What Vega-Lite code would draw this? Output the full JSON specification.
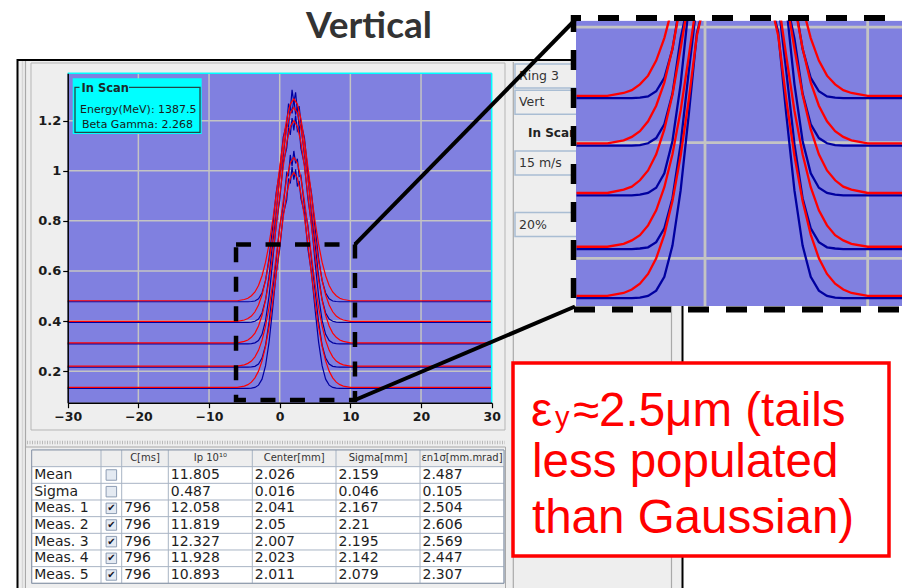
{
"$schema": "https://vega.github.io/schema/vega-lite/v6.json",
"width": 902, "height": 588, "padding": 0, "autosize": {"type": "none"},
"background": "#ffffff",
"config": {"view": {"stroke": null}, "text": {"font": "DejaVu Sans"}},
"data": {"values": [{"item": "shape"}]},
"datasets": {
"fit": [
{"x":-30,"m1":0.481,"m2":0.399,"m3":0.313,"m4":0.22,"m5":0.135},
{"x":-7.9,"m1":0.481,"m2":0.399,"m3":0.313,"m4":0.22,"m5":0.135},
{"x":-6,"m1":0.481,"m2":0.399,"m3":0.313,"m4":0.22,"m5":0.135},
{"x":-5,"m1":0.486,"m2":0.404,"m3":0.319,"m4":0.225,"m5":0.14},
{"x":-4.5,"m1":0.491,"m2":0.41,"m3":0.324,"m4":0.231,"m5":0.146},
{"x":-4,"m1":0.501,"m2":0.42,"m3":0.335,"m4":0.24,"m5":0.156},
{"x":-3.5,"m1":0.516,"m2":0.437,"m3":0.352,"m4":0.257,"m5":0.173},
{"x":-3,"m1":0.542,"m2":0.464,"m3":0.38,"m4":0.283,"m5":0.2},
{"x":-2.5,"m1":0.581,"m2":0.504,"m3":0.423,"m4":0.323,"m5":0.241},
{"x":-2,"m1":0.635,"m2":0.563,"m3":0.483,"m4":0.38,"m5":0.299},
{"x":-1.5,"m1":0.708,"m2":0.64,"m3":0.563,"m4":0.455,"m5":0.377},
{"x":-1,"m1":0.799,"m2":0.736,"m3":0.663,"m4":0.549,"m5":0.474},
{"x":-0.5,"m1":0.904,"m2":0.847,"m3":0.778,"m4":0.657,"m5":0.585},
{"x":0,"m1":1.014,"m2":0.964,"m3":0.9,"m4":0.771,"m5":0.703},
{"x":0.5,"m1":1.12,"m2":1.076,"m3":1.016,"m4":0.88,"m5":0.815},
{"x":1,"m1":1.208,"m2":1.169,"m3":1.113,"m4":0.971,"m5":0.909},
{"x":1.5,"m1":1.266,"m2":1.231,"m3":1.177,"m4":1.032,"m5":0.971},
{"x":2,"m1":1.287,"m2":1.253,"m3":1.2,"m4":1.053,"m5":0.993},
{"x":2.5,"m1":1.266,"m2":1.231,"m3":1.177,"m4":1.032,"m5":0.971},
{"x":3,"m1":1.208,"m2":1.169,"m3":1.113,"m4":0.971,"m5":0.909},
{"x":3.5,"m1":1.12,"m2":1.076,"m3":1.016,"m4":0.88,"m5":0.815},
{"x":4,"m1":1.014,"m2":0.964,"m3":0.9,"m4":0.771,"m5":0.703},
{"x":4.5,"m1":0.904,"m2":0.847,"m3":0.778,"m4":0.657,"m5":0.585},
{"x":5,"m1":0.799,"m2":0.736,"m3":0.663,"m4":0.549,"m5":0.474},
{"x":5.5,"m1":0.708,"m2":0.64,"m3":0.563,"m4":0.455,"m5":0.377},
{"x":6,"m1":0.635,"m2":0.563,"m3":0.483,"m4":0.38,"m5":0.299},
{"x":6.5,"m1":0.581,"m2":0.504,"m3":0.423,"m4":0.323,"m5":0.241},
{"x":7,"m1":0.542,"m2":0.464,"m3":0.38,"m4":0.283,"m5":0.2},
{"x":7.5,"m1":0.516,"m2":0.437,"m3":0.352,"m4":0.257,"m5":0.173},
{"x":8,"m1":0.501,"m2":0.42,"m3":0.335,"m4":0.24,"m5":0.156},
{"x":8.5,"m1":0.491,"m2":0.41,"m3":0.324,"m4":0.231,"m5":0.146},
{"x":9,"m1":0.486,"m2":0.404,"m3":0.319,"m4":0.225,"m5":0.14},
{"x":10,"m1":0.481,"m2":0.399,"m3":0.313,"m4":0.22,"m5":0.135},
{"x":12,"m1":0.481,"m2":0.399,"m3":0.313,"m4":0.22,"m5":0.135},
{"x":30,"m1":0.481,"m2":0.399,"m3":0.313,"m4":0.22,"m5":0.135}
],
"meas": [
{"x":-30,"m1":0.477,"m2":0.395,"m3":0.309,"m4":0.216,"m5":0.131},
{"x":-7.9,"m1":0.477,"m2":0.395,"m3":0.309,"m4":0.216,"m5":0.131},
{"x":-6,"m1":0.477,"m2":0.395,"m3":0.309,"m4":0.216,"m5":0.131},
{"x":-5,"m1":0.477,"m2":0.395,"m3":0.309,"m4":0.216,"m5":0.131},
{"x":-4.5,"m1":0.477,"m2":0.395,"m3":0.309,"m4":0.216,"m5":0.131},
{"x":-4,"m1":0.478,"m2":0.396,"m3":0.31,"m4":0.217,"m5":0.132},
{"x":-3.5,"m1":0.48,"m2":0.399,"m3":0.313,"m4":0.219,"m5":0.135},
{"x":-3,"m1":0.489,"m2":0.408,"m3":0.322,"m4":0.228,"m5":0.144},
{"x":-2.5,"m1":0.512,"m2":0.432,"m3":0.347,"m4":0.252,"m5":0.168},
{"x":-2,"m1":0.562,"m2":0.485,"m3":0.403,"m4":0.304,"m5":0.222},
{"x":-1.5,"m1":0.652,"m2":0.58,"m3":0.501,"m4":0.397,"m5":0.317},
{"x":-1,"m1":0.774,"m2":0.71,"m3":0.636,"m4":0.523,"m5":0.448},
{"x":-0.5,"m1":0.912,"m2":0.835,"m3":0.784,"m4":0.641,"m5":0.589},
{"x":0,"m1":1.0,"m2":0.975,"m3":0.881,"m4":0.777,"m5":0.687},
{"x":0.5,"m1":1.134,"m2":1.06,"m3":1.032,"m4":0.861,"m5":0.826},
{"x":1,"m1":1.189,"m2":1.187,"m3":1.091,"m4":0.992,"m5":0.885},
{"x":1.25,"m1":1.268,"m2":1.176,"m3":1.171,"m4":0.982,"m5":0.969},
{"x":1.5,"m1":1.242,"m2":1.257,"m3":1.143,"m4":1.063,"m5":0.949},
{"x":1.75,"m1":1.323,"m2":1.229,"m3":1.21,"m4":1.019,"m5":1.016},
{"x":2,"m1":1.273,"m2":1.289,"m3":1.161,"m4":1.079,"m5":0.964},
{"x":2.25,"m1":1.313,"m2":1.224,"m3":1.22,"m4":1.029,"m5":1.006},
{"x":2.5,"m1":1.237,"m2":1.255,"m3":1.158,"m4":1.048,"m5":0.937},
{"x":2.75,"m1":1.258,"m2":1.171,"m3":1.171,"m4":0.977,"m5":0.959},
{"x":3,"m1":1.192,"m2":1.183,"m3":1.089,"m4":0.982,"m5":0.89},
{"x":3.5,"m1":1.131,"m2":1.062,"m3":1.024,"m4":0.858,"m5":0.831},
{"x":4,"m1":0.992,"m2":0.972,"m3":0.886,"m4":0.779,"m5":0.687},
{"x":4.5,"m1":0.91,"m2":0.828,"m3":0.788,"m4":0.643,"m5":0.591},
{"x":5,"m1":0.774,"m2":0.71,"m3":0.636,"m4":0.523,"m5":0.448},
{"x":5.5,"m1":0.652,"m2":0.58,"m3":0.501,"m4":0.397,"m5":0.317},
{"x":6,"m1":0.562,"m2":0.485,"m3":0.403,"m4":0.304,"m5":0.222},
{"x":6.5,"m1":0.512,"m2":0.432,"m3":0.347,"m4":0.252,"m5":0.168},
{"x":7,"m1":0.489,"m2":0.408,"m3":0.322,"m4":0.228,"m5":0.144},
{"x":7.5,"m1":0.48,"m2":0.399,"m3":0.313,"m4":0.219,"m5":0.135},
{"x":8,"m1":0.478,"m2":0.396,"m3":0.31,"m4":0.217,"m5":0.132},
{"x":8.5,"m1":0.477,"m2":0.395,"m3":0.309,"m4":0.216,"m5":0.131},
{"x":9,"m1":0.477,"m2":0.395,"m3":0.309,"m4":0.216,"m5":0.131},
{"x":10,"m1":0.477,"m2":0.395,"m3":0.309,"m4":0.216,"m5":0.131},
{"x":12,"m1":0.477,"m2":0.395,"m3":0.309,"m4":0.216,"m5":0.131},
{"x":30,"m1":0.477,"m2":0.395,"m3":0.309,"m4":0.216,"m5":0.131}
],
"xticks": [{"v":-20},{"v":-10},{"v":0},{"v":10},{"v":20}],
"yticks": [{"v":0.2},{"v":0.4},{"v":0.6},{"v":0.8},{"v":1.0},{"v":1.2}],
"controls": [
{"label":"Ring 3","slot":0,"kind":"field"},
{"label":"Vert","slot":1,"kind":"field"},
{"label":"In Scan","slot":2,"kind":"label"},
{"label":"15 m/s","slot":3,"kind":"field"},
{"label":"20%","slot":4,"kind":"field"}
],
"trows": [
{"r":1,"name":"Mean","on":false,"C":"","Ip":"11.805","Center":"2.026","Sigma":"2.159","Emit":"2.487"},
{"r":2,"name":"Sigma","on":false,"C":"","Ip":"0.487","Center":"0.016","Sigma":"0.046","Emit":"0.105"},
{"r":3,"name":"Meas. 1","on":true,"C":"796","Ip":"12.058","Center":"2.041","Sigma":"2.167","Emit":"2.504"},
{"r":4,"name":"Meas. 2","on":true,"C":"796","Ip":"11.819","Center":"2.05","Sigma":"2.21","Emit":"2.606"},
{"r":5,"name":"Meas. 3","on":true,"C":"796","Ip":"12.327","Center":"2.007","Sigma":"2.195","Emit":"2.569"},
{"r":6,"name":"Meas. 4","on":true,"C":"796","Ip":"11.928","Center":"2.023","Sigma":"2.142","Emit":"2.447"},
{"r":7,"name":"Meas. 5","on":true,"C":"796","Ip":"10.893","Center":"2.011","Sigma":"2.079","Emit":"2.307"}
],
"tcols": [
{"key":"name","c":0,"title":""},
{"key":"on","c":1,"title":""},
{"key":"C","c":2,"title":"C[ms]"},
{"key":"Ip","c":3,"title":"Ip 10¹⁰"},
{"key":"Center","c":4,"title":"Center[mm]"},
{"key":"Sigma","c":5,"title":"Sigma[mm]"},
{"key":"Emit","c":6,"title":"εn1σ[mm.mrad]"}
]
},
"layer": [
{"mark":{"type":"rect","fill":"#eeeeee","stroke":"#000000","strokeWidth":2},
 "encoding":{"x":{"datum":17.5,"type":"quantitative","scale":{"domain":[0,902],"range":[0,902],"nice":false,"zero":false},"axis":null},"x2":{"datum":682.5},
 "y":{"datum":60,"type":"quantitative","scale":{"domain":[0,588],"range":[0,588],"nice":false,"zero":false},"axis":null},"y2":{"datum":600}}},
{"mark":{"type":"rule","stroke":"#d6d6d6","strokeWidth":1.5},
 "encoding":{"x":{"datum":22.5,"type":"quantitative","scale":{"domain":[0,902],"range":[0,902],"nice":false,"zero":false},"axis":null},
 "y":{"datum":61,"type":"quantitative","scale":{"domain":[0,588],"range":[0,588],"nice":false,"zero":false},"axis":null},"y2":{"datum":588}}},
{"mark":{"type":"rule","stroke":"#a9a9a9","strokeWidth":1.2},
 "encoding":{"x":{"datum":25.5,"type":"quantitative","scale":{"domain":[0,902],"range":[0,902],"nice":false,"zero":false},"axis":null},
 "y":{"datum":61,"type":"quantitative","scale":{"domain":[0,588],"range":[0,588],"nice":false,"zero":false},"axis":null},"y2":{"datum":588}}},
{"mark":{"type":"rect","fill":"#eeeeee","stroke":"#b5b5b5","strokeWidth":1},
 "encoding":{"x":{"datum":31,"type":"quantitative","scale":{"domain":[0,902],"range":[0,902],"nice":false,"zero":false},"axis":null},"x2":{"datum":505},
 "y":{"datum":63,"type":"quantitative","scale":{"domain":[0,588],"range":[0,588],"nice":false,"zero":false},"axis":null},"y2":{"datum":430}}},
{"mark":{"type":"rule","stroke":"#a9a9a9","strokeWidth":1.2},
 "encoding":{"x":{"datum":513.3,"type":"quantitative","scale":{"domain":[0,902],"range":[0,902],"nice":false,"zero":false},"axis":null},
 "y":{"datum":62,"type":"quantitative","scale":{"domain":[0,588],"range":[0,588],"nice":false,"zero":false},"axis":null},"y2":{"datum":588}}},
{"mark":{"type":"rule","stroke":"#a9a9a9","strokeWidth":1.2},
 "encoding":{"x":{"datum":671.5,"type":"quantitative","scale":{"domain":[0,902],"range":[0,902],"nice":false,"zero":false},"axis":null},
 "y":{"datum":62,"type":"quantitative","scale":{"domain":[0,588],"range":[0,588],"nice":false,"zero":false},"axis":null},"y2":{"datum":588}}},
{"mark":{"type":"rule","stroke":"#b9b9b9","strokeWidth":3.5,"strokeDash":[1,1.5]},
 "encoding":{"x":{"datum":27,"type":"quantitative","scale":{"domain":[0,902],"range":[0,902],"nice":false,"zero":false},"axis":null},"x2":{"datum":505},
 "y":{"datum":442.5,"type":"quantitative","scale":{"domain":[0,588],"range":[0,588],"nice":false,"zero":false},"axis":null}}},
{"mark":{"type":"rect","fill":"#eeeeee","stroke":"#a9a9a9","strokeWidth":1},
 "encoding":{"x":{"datum":25.5,"type":"quantitative","scale":{"domain":[0,902],"range":[0,902],"nice":false,"zero":false},"axis":null},"x2":{"datum":505.5},
 "y":{"datum":447,"type":"quantitative","scale":{"domain":[0,588],"range":[0,588],"nice":false,"zero":false},"axis":null},"y2":{"datum":600}}},

{"data":{"name":"controls"},"transform":[{"filter":"datum.kind == 'field'"}],
 "mark":{"type":"rect","fill":"#eeeeee","stroke":"#a9bdd3","strokeWidth":1.5,"yOffset":-12,"y2Offset":12},
 "encoding":{"x":{"datum":515,"type":"quantitative","scale":{"domain":[0,902],"range":[0,902],"nice":false,"zero":false},"axis":null},"x2":{"datum":620},
 "y":{"field":"slot","type":"quantitative","scale":{"domain":[0,1,2,3,4],"range":[76,102.3,133,163,224.5],"nice":false,"zero":false},"axis":null},"y2":{"field":"slot"}}},
{"data":{"name":"controls"},"transform":[{"filter":"datum.kind == 'field'"}],
 "mark":{"type":"text","align":"left","baseline":"middle","fontSize":12.5,"fill":"#333333"},
 "encoding":{"x":{"datum":519,"type":"quantitative","scale":{"domain":[0,902],"range":[0,902],"nice":false,"zero":false},"axis":null},
 "y":{"field":"slot","type":"quantitative","scale":{"domain":[0,1,2,3,4],"range":[76,102.3,133,163,224.5],"nice":false,"zero":false},"axis":null},
 "text":{"field":"label"}}},
{"data":{"name":"controls"},"transform":[{"filter":"datum.kind == 'label'"}],
 "mark":{"type":"text","align":"left","baseline":"middle","fontSize":12,"fontWeight":"bold","fill":"#222222"},
 "encoding":{"x":{"datum":528,"type":"quantitative","scale":{"domain":[0,902],"range":[0,902],"nice":false,"zero":false},"axis":null},
 "y":{"field":"slot","type":"quantitative","scale":{"domain":[0,1,2,3,4],"range":[76,102.3,133,163,224.5],"nice":false,"zero":false},"axis":null},
 "text":{"field":"label"}}},

{"mark":{"type":"rect","fill":"#ffffff","stroke":"#a8b4c4","strokeWidth":1},
 "encoding":{"x":{"datum":0,"type":"quantitative","scale":{"domain":[0,1,2,3,4,5,6,7],"range":[31.7,101,121.7,168.3,252.3,336,420,504],"nice":false,"zero":false},"axis":null},"x2":{"datum":7},
 "y":{"datum":0,"type":"quantitative","scale":{"domain":[0,8],"range":[450,583.3],"nice":false,"zero":false},"axis":null},"y2":{"datum":8}}},
{"mark":{"type":"rect","fill":"#eeeeee"},
 "encoding":{"x":{"datum":0,"type":"quantitative","scale":{"domain":[0,1,2,3,4,5,6,7],"range":[31.7,101,121.7,168.3,252.3,336,420,504],"nice":false,"zero":false},"axis":null},"x2":{"datum":7},
 "y":{"datum":0,"type":"quantitative","scale":{"domain":[0,8],"range":[450,583.3],"nice":false,"zero":false},"axis":null},"y2":{"datum":1}}},
{"data":{"name":"trows"},
 "mark":{"type":"rule","stroke":"#a8b4c4","strokeWidth":1},
 "encoding":{"x":{"datum":0,"type":"quantitative","scale":{"domain":[0,1,2,3,4,5,6,7],"range":[31.7,101,121.7,168.3,252.3,336,420,504],"nice":false,"zero":false},"axis":null},"x2":{"datum":7},
 "y":{"field":"r","type":"quantitative","scale":{"domain":[0,8],"range":[450,583.3],"nice":false,"zero":false},"axis":null}}},
{"data":{"name":"tcols"},"transform":[{"filter":"datum.c > 0"}],
 "mark":{"type":"rule","stroke":"#a8b4c4","strokeWidth":1},
 "encoding":{"x":{"field":"c","type":"quantitative","scale":{"domain":[0,1,2,3,4,5,6,7],"range":[31.7,101,121.7,168.3,252.3,336,420,504],"nice":false,"zero":false},"axis":null},
 "y":{"datum":0,"type":"quantitative","scale":{"domain":[0,8],"range":[450,583.3],"nice":false,"zero":false},"axis":null},"y2":{"datum":8}}},
{"mark":{"type":"rect","filled":false,"stroke":"#8a96a8","strokeWidth":1},
 "encoding":{"x":{"datum":0,"type":"quantitative","scale":{"domain":[0,1,2,3,4,5,6,7],"range":[31.7,101,121.7,168.3,252.3,336,420,504],"nice":false,"zero":false},"axis":null},"x2":{"datum":7},
 "y":{"datum":0,"type":"quantitative","scale":{"domain":[0,8],"range":[450,583.3],"nice":false,"zero":false},"axis":null},"y2":{"datum":8}}},
{"data":{"name":"tcols"},"transform":[{"filter":"datum.title != ''"}],
 "mark":{"type":"text","align":"center","baseline":"middle","fontSize":10,"fill":"#333333"},
 "encoding":{"x":{"field":"c","type":"quantitative","scale":{"domain":[-0.5,0.5,1.5,2.5,3.5,4.5,5.5,6.5],"range":[31.7,101,121.7,168.3,252.3,336,420,504],"nice":false,"zero":false},"axis":null},
 "y":{"datum":0,"type":"quantitative","scale":{"domain":[-0.5,7.5],"range":[450,583.3],"nice":false,"zero":false},"axis":null},
 "text":{"field":"title"}}},
{"data":{"name":"trows"},
 "transform":[{"fold":["name","C","Ip","Center","Sigma","Emit"],"as":["key","t"]},
  {"lookup":"key","from":{"data":{"name":"tcols"},"key":"key","fields":["c"]}}],
 "mark":{"type":"text","align":"left","baseline":"middle","fontSize":14,"fill":"#1e1e1e","dx":2.5},
 "encoding":{"x":{"field":"c","type":"quantitative","scale":{"domain":[0,1,2,3,4,5,6,7],"range":[31.7,101,121.7,168.3,252.3,336,420,504],"nice":false,"zero":false},"axis":null},
 "y":{"field":"r","type":"quantitative","scale":{"domain":[-0.5,7.5],"range":[450,583.3],"nice":false,"zero":false},"axis":null},
 "text":{"field":"t"}}},
{"data":{"name":"trows"},
 "mark":{"type":"point","shape":"square","size":110,"filled":true,"fill":"#e4eaf2","stroke":"#8d9db4","strokeWidth":1,"opacity":1},
 "encoding":{"x":{"datum":1,"type":"quantitative","scale":{"domain":[-0.5,0.5,1.5,2.5,3.5,4.5,5.5,6.5],"range":[31.7,101,121.7,168.3,252.3,336,420,504],"nice":false,"zero":false},"axis":null},
 "y":{"field":"r","type":"quantitative","scale":{"domain":[-0.5,7.5],"range":[450,583.3],"nice":false,"zero":false},"axis":null}}},
{"data":{"name":"trows"},"transform":[{"filter":"datum.on"}],
 "mark":{"type":"text","text":"✔","align":"center","baseline":"middle","fontSize":10,"fill":"#141428"},
 "encoding":{"x":{"datum":1,"type":"quantitative","scale":{"domain":[-0.5,0.5,1.5,2.5,3.5,4.5,5.5,6.5],"range":[31.7,101,121.7,168.3,252.3,336,420,504],"nice":false,"zero":false},"axis":null},
 "y":{"field":"r","type":"quantitative","scale":{"domain":[-0.5,7.5],"range":[450,583.3],"nice":false,"zero":false},"axis":null}}},

{"mark":{"type":"rect","fill":"#8080e0"},
 "encoding":{"x":{"datum":-30,"type":"quantitative","scale":{"domain":[-30,30],"range":[67.7,491.7],"nice":false,"zero":false},"axis":null},"x2":{"datum":30},
 "y":{"datum":0.074,"type":"quantitative","scale":{"domain":[0.074,1.389],"range":[402.7,73.3],"nice":false,"zero":false},"axis":null},"y2":{"datum":1.389}}},
{"data":{"name":"xticks"},
 "mark":{"type":"rule","stroke":"#c4c4c4","strokeWidth":1.5},
 "encoding":{"x":{"field":"v","type":"quantitative","scale":{"domain":[-30,30],"range":[67.7,491.7],"nice":false,"zero":false},"axis":null},
 "y":{"datum":0.074,"type":"quantitative","scale":{"domain":[0.074,1.389],"range":[402.7,73.3],"nice":false,"zero":false},"axis":null},"y2":{"datum":1.389}}},
{"data":{"name":"yticks"},
 "mark":{"type":"rule","stroke":"#c4c4c4","strokeWidth":1.5},
 "encoding":{"x":{"datum":-30,"type":"quantitative","scale":{"domain":[-30,30],"range":[67.7,491.7],"nice":false,"zero":false},"axis":null},"x2":{"datum":30},
 "y":{"field":"v","type":"quantitative","scale":{"domain":[0.074,1.389],"range":[402.7,73.3],"nice":false,"zero":false},"axis":null}}},
{"data":{"name":"meas"},"transform":[{"fold":["m1","m2","m3","m4","m5"],"as":["key","value"]}],
 "mark":{"type":"line","stroke":"#0000a0","strokeWidth":1.2},
 "encoding":{"x":{"field":"x","type":"quantitative","scale":{"domain":[-30,30],"range":[67.7,491.7],"nice":false,"zero":false},
   "axis":{"values":[-30,-20,-10,0,10,20,30],"format":"d","offset":-185.3,"title":null,"grid":false,"zindex":1,"domainColor":"#000000","domainWidth":1.5,"tickColor":"#000000","tickSize":5,"tickWidth":1.2,"labelFont":"DejaVu Sans","labelFontWeight":"bold","labelFontSize":12.5,"labelColor":"#1a1a1a","labelPadding":3,"labelFlush":false,"labelOverlap":false}},
 "y":{"field":"value","type":"quantitative","scale":{"domain":[0.074,1.389],"range":[402.7,73.3],"nice":false,"zero":false},
   "axis":{"values":[0.2,0.4,0.6,0.8,1,1.2],"format":"~g","offset":-67.7,"title":null,"grid":false,"zindex":1,"domainColor":"#000000","domainWidth":1.5,"tickColor":"#000000","tickSize":5,"tickWidth":1.2,"labelFont":"DejaVu Sans","labelFontWeight":"bold","labelFontSize":13,"labelColor":"#1a1a1a","labelPadding":2,"labelFlush":false,"labelOverlap":false}},
 "detail":{"field":"key"}}},
{"data":{"name":"fit"},"transform":[{"fold":["m1","m2","m3","m4","m5"],"as":["key","value"]}],
 "mark":{"type":"line","stroke":"#ff0000","strokeWidth":1.2},
 "encoding":{"x":{"field":"x","type":"quantitative","scale":{"domain":[-30,30],"range":[67.7,491.7],"nice":false,"zero":false},"axis":null},
 "y":{"field":"value","type":"quantitative","scale":{"domain":[0.074,1.389],"range":[402.7,73.3],"nice":false,"zero":false},"axis":null},
 "detail":{"field":"key"}}},
{"mark":{"type":"rule","stroke":"#00ffff","strokeWidth":1.5},
 "encoding":{"x":{"datum":-30,"type":"quantitative","scale":{"domain":[-30,30],"range":[67.7,491.7],"nice":false,"zero":false},"axis":null},"x2":{"datum":30},
 "y":{"datum":1.389,"type":"quantitative","scale":{"domain":[0.074,1.389],"range":[402.7,73.3],"nice":false,"zero":false},"axis":null}}},
{"mark":{"type":"rule","stroke":"#00ffff","strokeWidth":1.5},
 "encoding":{"x":{"datum":30,"type":"quantitative","scale":{"domain":[-30,30],"range":[67.7,491.7],"nice":false,"zero":false},"axis":null},
 "y":{"datum":0.074,"type":"quantitative","scale":{"domain":[0.074,1.389],"range":[402.7,73.3],"nice":false,"zero":false},"axis":null},"y2":{"datum":1.389}}},

{"mark":{"type":"rect","fill":"#00ffff"},
 "encoding":{"x":{"datum":72.7,"type":"quantitative","scale":{"domain":[0,902],"range":[0,902],"nice":false,"zero":false},"axis":null},"x2":{"datum":201.7},
 "y":{"datum":78.3,"type":"quantitative","scale":{"domain":[0,588],"range":[0,588],"nice":false,"zero":false},"axis":null},"y2":{"datum":134}}},
{"mark":{"type":"rect","filled":false,"stroke":"#214848","strokeWidth":1.3},
 "encoding":{"x":{"datum":75,"type":"quantitative","scale":{"domain":[0,902],"range":[0,902],"nice":false,"zero":false},"axis":null},"x2":{"datum":200},
 "y":{"datum":87.3,"type":"quantitative","scale":{"domain":[0,588],"range":[0,588],"nice":false,"zero":false},"axis":null},"y2":{"datum":132.3}}},
{"mark":{"type":"rect","fill":"#00ffff"},
 "encoding":{"x":{"datum":79.5,"type":"quantitative","scale":{"domain":[0,902],"range":[0,902],"nice":false,"zero":false},"axis":null},"x2":{"datum":129},
 "y":{"datum":82,"type":"quantitative","scale":{"domain":[0,588],"range":[0,588],"nice":false,"zero":false},"axis":null},"y2":{"datum":92}}},
{"mark":{"type":"text","text":"In Scan","align":"left","baseline":"alphabetic","fontSize":11.5,"fontWeight":"bold","fill":"#1a2a2a"},
 "encoding":{"x":{"datum":81.5,"type":"quantitative","scale":{"domain":[0,902],"range":[0,902],"nice":false,"zero":false},"axis":null},
 "y":{"datum":92,"type":"quantitative","scale":{"domain":[0,588],"range":[0,588],"nice":false,"zero":false},"axis":null}}},
{"mark":{"type":"text","text":"Energy(MeV): 1387.5","align":"center","baseline":"alphabetic","fontSize":11,"fill":"#1a1a1a"},
 "encoding":{"x":{"datum":138.3,"type":"quantitative","scale":{"domain":[0,902],"range":[0,902],"nice":false,"zero":false},"axis":null},
 "y":{"datum":112.5,"type":"quantitative","scale":{"domain":[0,588],"range":[0,588],"nice":false,"zero":false},"axis":null}}},
{"mark":{"type":"text","text":"Beta Gamma: 2.268","align":"center","baseline":"alphabetic","fontSize":11,"fill":"#1a1a1a"},
 "encoding":{"x":{"datum":137.5,"type":"quantitative","scale":{"domain":[0,902],"range":[0,902],"nice":false,"zero":false},"axis":null},
 "y":{"datum":127.5,"type":"quantitative","scale":{"domain":[0,588],"range":[0,588],"nice":false,"zero":false},"axis":null}}},

{"mark":{"type":"rect","filled":false,"stroke":"#000000","strokeWidth":4.5,"strokeDash":[15,14.5]},
 "encoding":{"x":{"datum":-6.18,"type":"quantitative","scale":{"domain":[-30,30],"range":[67.7,491.7],"nice":false,"zero":false},"axis":null},"x2":{"datum":10.65},
 "y":{"datum":0.706,"type":"quantitative","scale":{"domain":[0.074,1.389],"range":[402.7,73.3],"nice":false,"zero":false},"axis":null},"y2":{"datum":0.085}}},

{"mark":{"type":"rect","fill":"#8080e0"},
 "encoding":{"x":{"datum":-7.93,"type":"quantitative","scale":{"domain":[-7.93,12.11],"range":[576,902],"nice":false,"zero":false},"axis":null},"x2":{"datum":12.11},
 "y":{"datum":0.1175,"type":"quantitative","scale":{"domain":[0.1175,0.6469],"range":[306,0],"nice":false,"zero":false},"axis":null},"y2":{"datum":0.611}}},
{"data":{"name":"xticks"},"transform":[{"filter":"datum.v >= -7.93 && datum.v <= 12.11"}],
 "mark":{"type":"rule","stroke":"#c4c4c4","strokeWidth":2.8},
 "encoding":{"x":{"field":"v","type":"quantitative","scale":{"domain":[-7.93,12.11],"range":[576,902],"nice":false,"zero":false},"axis":null},
 "y":{"datum":0.1175,"type":"quantitative","scale":{"domain":[0.1175,0.6469],"range":[306,0],"nice":false,"zero":false},"axis":null},"y2":{"datum":0.611}}},
{"data":{"name":"yticks"},"transform":[{"filter":"datum.v <= 0.611"}],
 "mark":{"type":"rule","stroke":"#c4c4c4","strokeWidth":2.8},
 "encoding":{"x":{"datum":-7.93,"type":"quantitative","scale":{"domain":[-7.93,12.11],"range":[576,902],"nice":false,"zero":false},"axis":null},"x2":{"datum":12.11},
 "y":{"field":"v","type":"quantitative","scale":{"domain":[0.1175,0.6469],"range":[306,0],"nice":false,"zero":false},"axis":null}}},
{"data":{"name":"meas"},"transform":[{"filter":"datum.x >= -7.9"},{"fold":["m1","m2","m3","m4","m5"],"as":["key","value"]}],
 "mark":{"type":"line","stroke":"#0000a0","strokeWidth":2.3},
 "encoding":{"x":{"field":"x","type":"quantitative","scale":{"domain":[-7.93,12.11],"range":[576,902],"nice":false,"zero":false},"axis":null},
 "y":{"field":"value","type":"quantitative","scale":{"domain":[0.1175,0.6469],"range":[306,0],"nice":false,"zero":false,"clamp":true},"axis":null},
 "detail":{"field":"key"}}},
{"data":{"name":"fit"},"transform":[{"filter":"datum.x >= -7.9"},{"fold":["m1","m2","m3","m4","m5"],"as":["key","value"]}],
 "mark":{"type":"line","stroke":"#ff0000","strokeWidth":2.3},
 "encoding":{"x":{"field":"x","type":"quantitative","scale":{"domain":[-7.93,12.11],"range":[576,902],"nice":false,"zero":false},"axis":null},
 "y":{"field":"value","type":"quantitative","scale":{"domain":[0.1175,0.6469],"range":[306,0],"nice":false,"zero":false,"clamp":true},"axis":null},
 "detail":{"field":"key"}}},

{"mark":{"type":"rect","fill":"#ffffff"},
 "encoding":{"x":{"datum":571,"type":"quantitative","scale":{"domain":[0,902],"range":[0,902],"nice":false,"zero":false},"axis":null},"x2":{"datum":902},
 "y":{"datum":0,"type":"quantitative","scale":{"domain":[0,588],"range":[0,588],"nice":false,"zero":false},"axis":null},"y2":{"datum":20.5}}},
{"mark":{"type":"rule","stroke":"#000000","strokeWidth":6,"strokeDash":[21,17],"strokeDashOffset":13},
 "encoding":{"x":{"datum":573,"type":"quantitative","scale":{"domain":[0,902],"range":[0,902],"nice":false,"zero":false},"axis":null},"x2":{"datum":902},
 "y":{"datum":18,"type":"quantitative","scale":{"domain":[0,588],"range":[0,588],"nice":false,"zero":false},"axis":null}}},
{"mark":{"type":"rule","stroke":"#000000","strokeWidth":5.5,"strokeDash":[20,18],"strokeDashOffset":3},
 "encoding":{"x":{"datum":573.5,"type":"quantitative","scale":{"domain":[0,902],"range":[0,902],"nice":false,"zero":false},"axis":null},
 "y":{"datum":15,"type":"quantitative","scale":{"domain":[0,588],"range":[0,588],"nice":false,"zero":false},"axis":null},"y2":{"datum":312}}},
{"mark":{"type":"rule","stroke":"#000000","strokeWidth":6,"strokeDash":[21,17],"strokeDashOffset":37},
 "encoding":{"x":{"datum":573,"type":"quantitative","scale":{"domain":[0,902],"range":[0,902],"nice":false,"zero":false},"axis":null},"x2":{"datum":902},
 "y":{"datum":309.5,"type":"quantitative","scale":{"domain":[0,588],"range":[0,588],"nice":false,"zero":false},"axis":null}}},
{"mark":{"type":"rule","stroke":"#000000","strokeWidth":4},
 "encoding":{"x":{"datum":355,"type":"quantitative","scale":{"domain":[0,902],"range":[0,902],"nice":false,"zero":false},"axis":null},"x2":{"datum":575},
 "y":{"datum":244.3,"type":"quantitative","scale":{"domain":[0,588],"range":[0,588],"nice":false,"zero":false},"axis":null},"y2":{"datum":20}}},
{"mark":{"type":"rule","stroke":"#000000","strokeWidth":4},
 "encoding":{"x":{"datum":355,"type":"quantitative","scale":{"domain":[0,902],"range":[0,902],"nice":false,"zero":false},"axis":null},"x2":{"datum":575},
 "y":{"datum":400,"type":"quantitative","scale":{"domain":[0,588],"range":[0,588],"nice":false,"zero":false},"axis":null},"y2":{"datum":306.5}}},

{"mark":{"type":"rect","fill":"#ffffff","stroke":"#ff0000","strokeWidth":3.5},
 "encoding":{"x":{"datum":513,"type":"quantitative","scale":{"domain":[0,902],"range":[0,902],"nice":false,"zero":false},"axis":null},"x2":{"datum":889},
 "y":{"datum":363,"type":"quantitative","scale":{"domain":[0,588],"range":[0,588],"nice":false,"zero":false},"axis":null},"y2":{"datum":556}}},
{"mark":{"type":"text","text":"ε","align":"left","baseline":"alphabetic","font":"Liberation Sans","fontSize":47.5,"fill":"#ff0000"},
 "encoding":{"x":{"datum":531,"type":"quantitative","scale":{"domain":[0,902],"range":[0,902],"nice":false,"zero":false},"axis":null},
 "y":{"datum":426,"type":"quantitative","scale":{"domain":[0,588],"range":[0,588],"nice":false,"zero":false},"axis":null}}},
{"mark":{"type":"text","text":"y","align":"left","baseline":"alphabetic","font":"Liberation Sans","fontSize":29,"fill":"#ff0000"},
 "encoding":{"x":{"datum":555,"type":"quantitative","scale":{"domain":[0,902],"range":[0,902],"nice":false,"zero":false},"axis":null},
 "y":{"datum":427,"type":"quantitative","scale":{"domain":[0,588],"range":[0,588],"nice":false,"zero":false},"axis":null}}},
{"mark":{"type":"text","text":"≈2.5μm (tails","align":"left","baseline":"alphabetic","font":"Liberation Sans","fontSize":47.5,"fill":"#ff0000"},
 "encoding":{"x":{"datum":573,"type":"quantitative","scale":{"domain":[0,902],"range":[0,902],"nice":false,"zero":false},"axis":null},
 "y":{"datum":426,"type":"quantitative","scale":{"domain":[0,588],"range":[0,588],"nice":false,"zero":false},"axis":null}}},
{"mark":{"type":"text","text":"less populated","align":"left","baseline":"alphabetic","font":"Liberation Sans","fontSize":47.5,"fill":"#ff0000"},
 "encoding":{"x":{"datum":532,"type":"quantitative","scale":{"domain":[0,902],"range":[0,902],"nice":false,"zero":false},"axis":null},
 "y":{"datum":477,"type":"quantitative","scale":{"domain":[0,588],"range":[0,588],"nice":false,"zero":false},"axis":null}}},
{"mark":{"type":"text","text":"than Gaussian)","align":"left","baseline":"alphabetic","font":"Liberation Sans","fontSize":47.5,"fill":"#ff0000"},
 "encoding":{"x":{"datum":532,"type":"quantitative","scale":{"domain":[0,902],"range":[0,902],"nice":false,"zero":false},"axis":null},
 "y":{"datum":533,"type":"quantitative","scale":{"domain":[0,588],"range":[0,588],"nice":false,"zero":false},"axis":null}}},
{"mark":{"type":"text","text":"Vertical","align":"center","baseline":"alphabetic","font":"Lato","fontWeight":"bold","fontSize":37,"fill":"#333333"},
 "encoding":{"x":{"datum":369,"type":"quantitative","scale":{"domain":[0,902],"range":[0,902],"nice":false,"zero":false},"axis":null},
 "y":{"datum":38,"type":"quantitative","scale":{"domain":[0,588],"range":[0,588],"nice":false,"zero":false},"axis":null}}}
],
"resolve": {"scale": {"x": "independent", "y": "independent"}, "axis": {"x": "independent", "y": "independent"}}
}
